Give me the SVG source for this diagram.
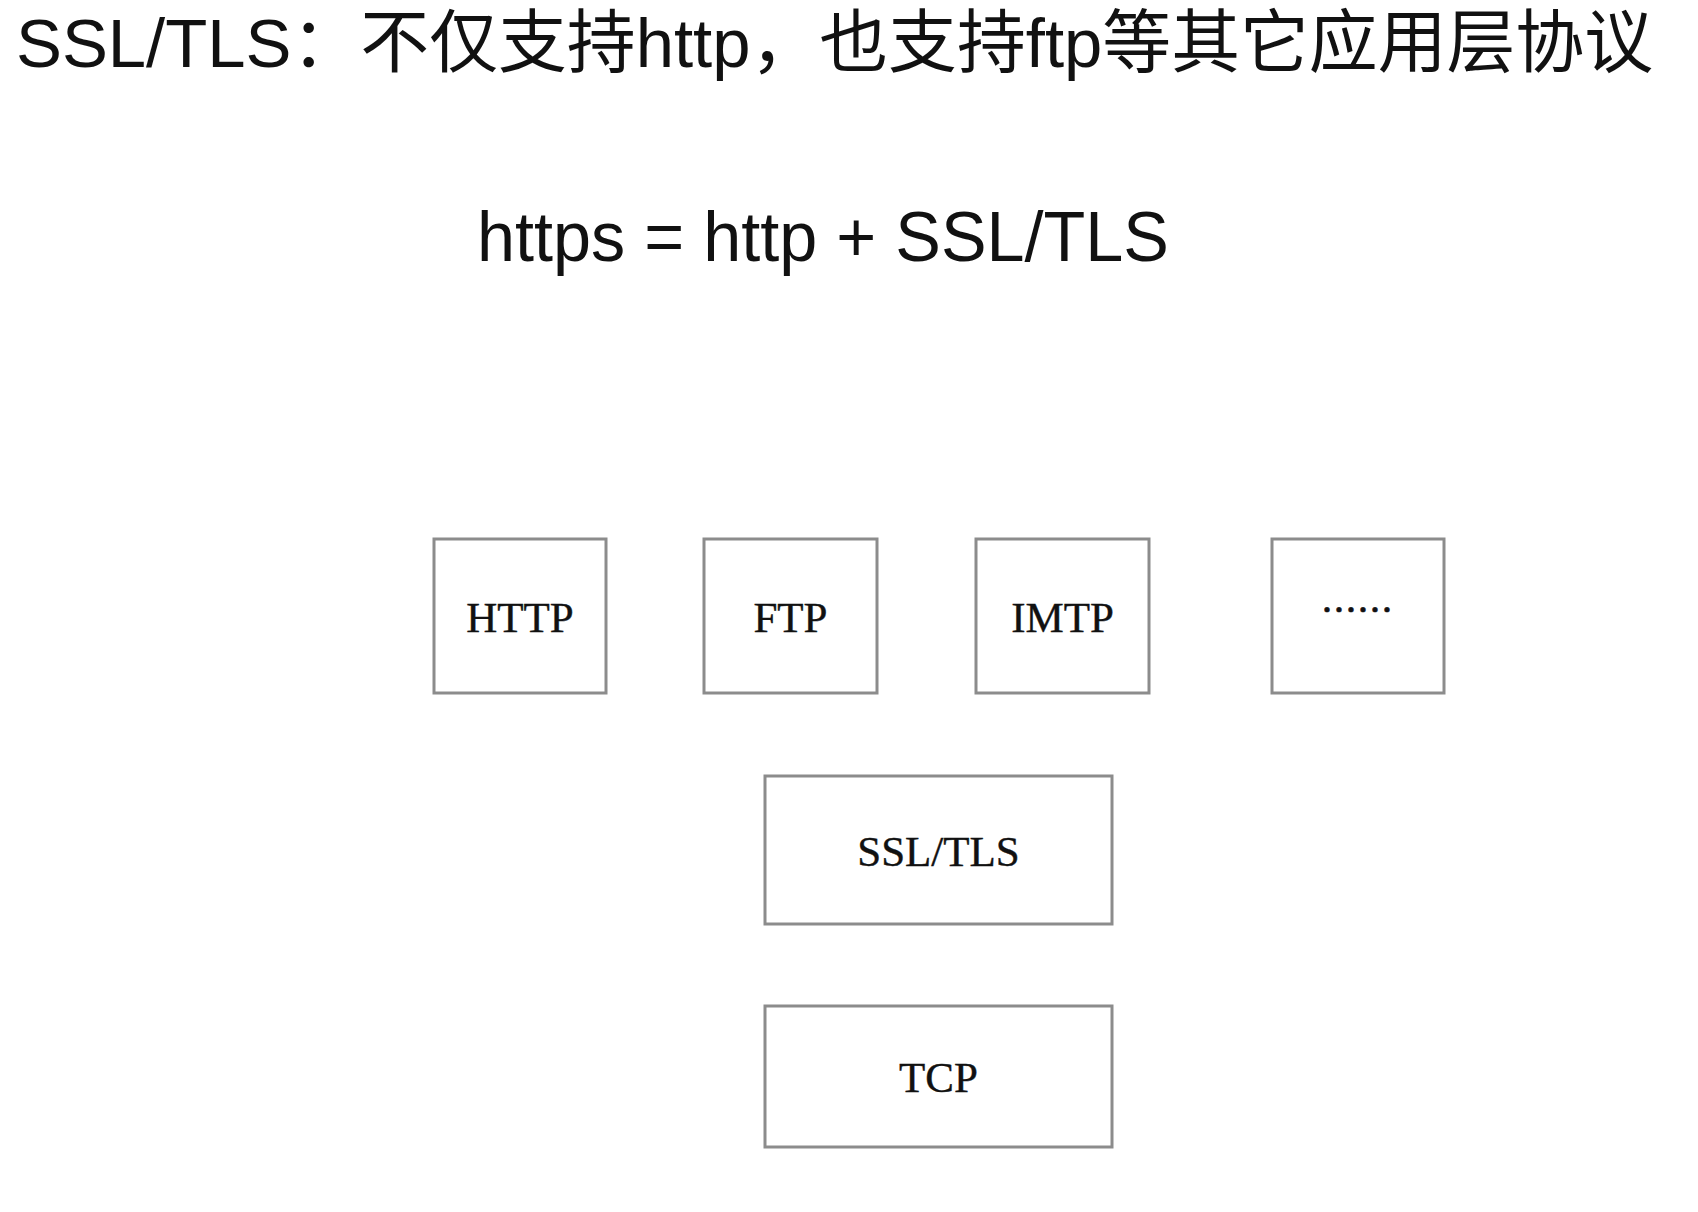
<svg xmlns="http://www.w3.org/2000/svg" width="1698" height="1212" viewBox="0 0 1698 1212">
<style>
.title{font-family:"Liberation Sans","Noto Sans CJK SC",sans-serif;font-size:69px;fill:#111}
.formula{font-family:"Liberation Sans",sans-serif;font-size:71px;fill:#111}
.box{fill:#fff;stroke:#8c8c8c;stroke-width:3}
.lbl{font-family:"Liberation Serif","Noto Sans CJK SC",serif;font-size:43px;fill:#111;stroke:#111;stroke-width:0.4;text-anchor:middle}
.dots{font-family:"Noto Sans CJK SC",sans-serif;font-size:36px;fill:#111;stroke:#111;stroke-width:0.6;text-anchor:middle}
</style>
<rect width="1698" height="1212" fill="#fff"/>
<text class="title" x="16" y="67" textLength="1637" lengthAdjust="spacingAndGlyphs">SSL/TLS：不仅支持http，也支持ftp等其它应用层协议</text>
<text class="formula" x="477" y="261" textLength="692" lengthAdjust="spacingAndGlyphs">https = http + SSL/TLS</text>
<g id="connectors"/>
<g id="node-http"><rect class="box" x="434" y="539" width="172" height="154"/><text class="lbl" x="520" y="632">HTTP</text></g>
<g id="node-ftp"><rect class="box" x="704" y="539" width="173" height="154"/><text class="lbl" x="790.5" y="632">FTP</text></g>
<g id="node-imtp"><rect class="box" x="976" y="539" width="173" height="154"/><text class="lbl" x="1062.5" y="632">IMTP</text></g>
<g id="node-more"><rect class="box" x="1272" y="539" width="172" height="154"/><text class="dots" x="1357" y="624">……</text></g>
<g id="node-ssl"><rect class="box" x="765" y="776" width="347" height="148"/><text class="lbl" x="938.5" y="866">SSL/TLS</text></g>
<g id="node-tcp"><rect class="box" x="765" y="1006" width="347" height="141"/><text class="lbl" x="938.5" y="1092">TCP</text></g>
</svg>
